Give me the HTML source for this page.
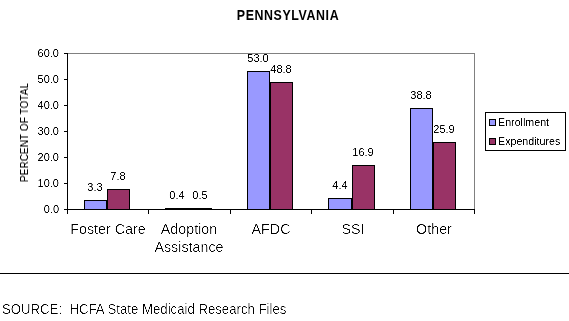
<!DOCTYPE html>
<html><head><meta charset="utf-8"><style>
html,body{margin:0;padding:0;background:#fff;}
body{width:569px;height:321px;position:relative;overflow:hidden;}
.t{position:absolute;will-change:transform;font-family:"Liberation Sans",sans-serif;color:#000;white-space:nowrap;}
</style></head><body>
<svg width="0" height="0" style="position:absolute;left:0;top:0"><filter id="fl" x="-5%" y="-20%" width="110%" height="140%"><feComponentTransfer><feFuncA type="linear" slope="2.5" intercept="-1.1"/></feComponentTransfer></filter><filter id="fs" x="-5%" y="-20%" width="110%" height="140%"><feComponentTransfer><feFuncA type="linear" slope="2.0" intercept="-0.5"/></feComponentTransfer></filter><filter id="ft" x="-5%" y="-20%" width="110%" height="140%"><feComponentTransfer><feFuncA type="linear" slope="1.0" intercept="0"/></feComponentTransfer></filter></svg>
<svg width="569" height="321" shape-rendering="crispEdges" style="position:absolute;left:0;top:0"><rect x="68" y="53" width="407" height="1" fill="#808080"/><rect x="474" y="53" width="1" height="156" fill="#808080"/><rect x="67" y="53" width="1" height="161" fill="#000"/><rect x="67" y="209" width="408" height="1" fill="#000"/><rect x="64" y="53" width="3" height="1" fill="#000"/><rect x="64" y="79" width="3" height="1" fill="#000"/><rect x="64" y="105" width="3" height="1" fill="#000"/><rect x="64" y="131" width="3" height="1" fill="#000"/><rect x="64" y="157" width="3" height="1" fill="#000"/><rect x="64" y="183" width="3" height="1" fill="#000"/><rect x="64" y="209" width="3" height="1" fill="#000"/><rect x="148" y="210" width="1" height="4" fill="#000"/><rect x="230" y="210" width="1" height="4" fill="#000"/><rect x="311" y="210" width="1" height="4" fill="#000"/><rect x="393" y="210" width="1" height="4" fill="#000"/><rect x="474" y="210" width="1" height="4" fill="#000"/><rect x="84" y="200" width="23" height="10" fill="#000"/><rect x="85" y="201" width="21" height="8" fill="#9999ff"/><rect x="107" y="189" width="23" height="21" fill="#000"/><rect x="108" y="190" width="21" height="19" fill="#993366"/><rect x="165" y="208" width="24" height="2" fill="#000"/><rect x="189" y="208" width="23" height="2" fill="#000"/><rect x="247" y="71" width="23" height="139" fill="#000"/><rect x="248" y="72" width="21" height="137" fill="#9999ff"/><rect x="270" y="82" width="23" height="128" fill="#000"/><rect x="271" y="83" width="21" height="126" fill="#993366"/><rect x="328" y="198" width="24" height="12" fill="#000"/><rect x="329" y="199" width="22" height="10" fill="#9999ff"/><rect x="352" y="165" width="23" height="45" fill="#000"/><rect x="353" y="166" width="21" height="43" fill="#993366"/><rect x="410" y="108" width="23" height="102" fill="#000"/><rect x="411" y="109" width="21" height="100" fill="#9999ff"/><rect x="433" y="142" width="23" height="68" fill="#000"/><rect x="434" y="143" width="21" height="66" fill="#993366"/><rect x="485" y="112" width="81" height="39" fill="#000"/><rect x="486" y="113" width="79" height="37" fill="#fff"/><rect x="489" y="119" width="7" height="7" fill="#000"/><rect x="490" y="120" width="5" height="5" fill="#9999ff"/><rect x="489" y="138" width="7" height="7" fill="#000"/><rect x="490" y="139" width="5" height="5" fill="#993366"/><rect x="0" y="273" width="569" height="1" fill="#000"/></svg>
<div class="t" style="left:187.8px;top:10px;width:200px;font-size:12.4px;line-height:12.4px;text-align:center;font-weight:bold;transform:scaleY(1.16);transform-origin:0 10.54px;filter:url(#ft);letter-spacing:0.6px;">PENNSYLVANIA</div><div class="t" style="left:-1px;top:48px;width:60px;font-size:11px;line-height:11px;text-align:right;filter:url(#fs);">60.0</div><div class="t" style="left:-1px;top:74px;width:60px;font-size:11px;line-height:11px;text-align:right;filter:url(#fs);">50.0</div><div class="t" style="left:-1px;top:100px;width:60px;font-size:11px;line-height:11px;text-align:right;filter:url(#fs);">40.0</div><div class="t" style="left:-1px;top:126px;width:60px;font-size:11px;line-height:11px;text-align:right;filter:url(#fs);">30.0</div><div class="t" style="left:-1px;top:152px;width:60px;font-size:11px;line-height:11px;text-align:right;filter:url(#fs);">20.0</div><div class="t" style="left:-1px;top:178px;width:60px;font-size:11px;line-height:11px;text-align:right;filter:url(#fs);">10.0</div><div class="t" style="left:-1px;top:204px;width:60px;font-size:11px;line-height:11px;text-align:right;filter:url(#fs);">0.0</div><div class="t" style="left:65.0px;top:182px;width:60px;font-size:11px;line-height:11px;text-align:center;filter:url(#fs);">3.3</div><div class="t" style="left:88.0px;top:171px;width:60px;font-size:11px;line-height:11px;text-align:center;filter:url(#fs);">7.8</div><div class="t" style="left:146.5px;top:190px;width:60px;font-size:11px;line-height:11px;text-align:center;filter:url(#fs);">0.4</div><div class="t" style="left:170.0px;top:190px;width:60px;font-size:11px;line-height:11px;text-align:center;filter:url(#fs);">0.5</div><div class="t" style="left:228.0px;top:53px;width:60px;font-size:11px;line-height:11px;text-align:center;filter:url(#fs);">53.0</div><div class="t" style="left:251.0px;top:64px;width:60px;font-size:11px;line-height:11px;text-align:center;filter:url(#fs);">48.8</div><div class="t" style="left:309.5px;top:180px;width:60px;font-size:11px;line-height:11px;text-align:center;filter:url(#fs);">4.4</div><div class="t" style="left:333.0px;top:147px;width:60px;font-size:11px;line-height:11px;text-align:center;filter:url(#fs);">16.9</div><div class="t" style="left:391.0px;top:90px;width:60px;font-size:11px;line-height:11px;text-align:center;filter:url(#fs);">38.8</div><div class="t" style="left:414.0px;top:124px;width:60px;font-size:11px;line-height:11px;text-align:center;filter:url(#fs);">25.9</div><div class="t" style="left:47.5px;top:222px;width:120px;font-size:14.3px;line-height:14.3px;text-align:center;filter:url(#fl);">Foster Care</div><div class="t" style="left:128.5px;top:222px;width:120px;font-size:14.3px;line-height:14.3px;text-align:center;filter:url(#fl);">Adoption</div><div class="t" style="left:210.5px;top:222px;width:120px;font-size:14.3px;line-height:14.3px;text-align:center;filter:url(#fl);">AFDC</div><div class="t" style="left:292.5px;top:222px;width:120px;font-size:14.3px;line-height:14.3px;text-align:center;filter:url(#fl);">SSI</div><div class="t" style="left:373.5px;top:222px;width:120px;font-size:14.3px;line-height:14.3px;text-align:center;filter:url(#fl);">Other</div><div class="t" style="left:128.5px;top:240px;width:120px;font-size:14.3px;line-height:14.3px;text-align:center;filter:url(#fl);">Assistance</div><div class="t" style="left:498px;top:117px;width:200px;font-size:10.7px;line-height:10.7px;text-align:left;filter:url(#fs);">Enrollment</div><div class="t" style="left:498px;top:136px;width:200px;font-size:10.7px;line-height:10.7px;text-align:left;filter:url(#fs);">Expenditures</div><div class="t" style="left:2px;top:303px;width:400px;font-size:13.19px;line-height:13.19px;text-align:left;transform:scaleY(1.1);transform-origin:0 11.21px;filter:url(#fl);white-space:pre;">SOURCE:&nbsp; HCFA State Medicaid Research Files</div><div class="t" style="left:0px;top:0px;width:140px;font-size:10.1px;line-height:10.1px;text-align:center;transform-origin:0 0;transform:translate(20px,202.5px) rotate(-90deg);filter:url(#fs);">PERCENT OF TOTAL</div>
</body></html>
